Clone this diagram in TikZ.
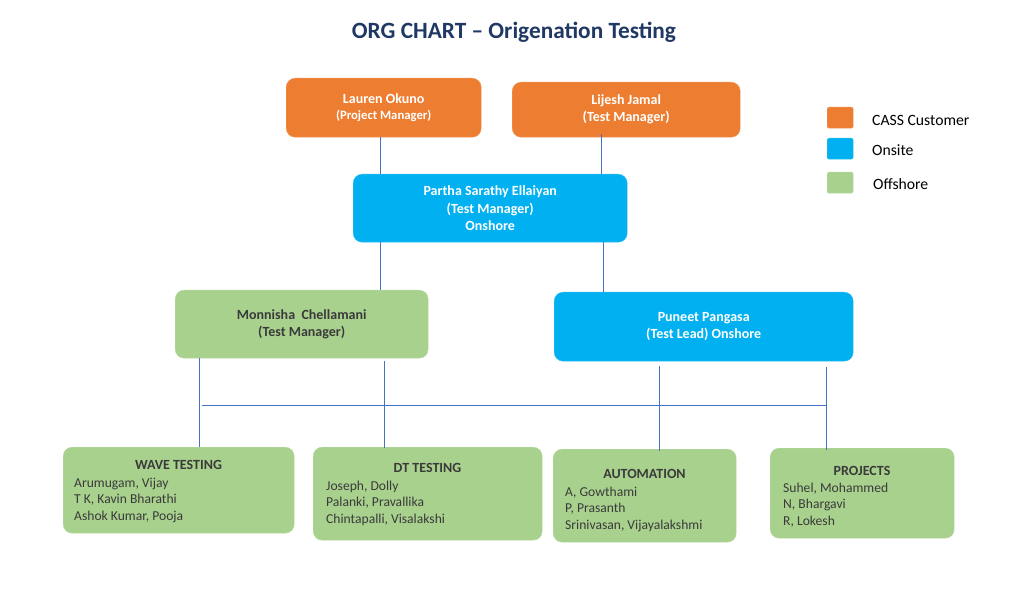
\documentclass[tikz,border=0pt]{standalone}
\usepackage{fontspec}
\setmainfont{Carlito}
\definecolor{cassorange}{HTML}{ED7D31}
\definecolor{onsiteblue}{HTML}{00B0F0}
\definecolor{offgreen}{HTML}{A9D18E}
\definecolor{titleblue}{HTML}{1F3864}
\definecolor{linkblue}{HTML}{4472C4}
\definecolor{darktext}{HTML}{3A3A3A}
\begin{document}
\begin{tikzpicture}[x=1pt,y=-1pt,
  box/.style={rounded corners=9pt, inner sep=0pt, anchor=north west, align=center},
  cassbox/.style={box, fill=cassorange, draw=cassorange!80!white, text=white, font=\bfseries\fontsize{14}{17}\selectfont},
  onbox/.style={box, fill=onsiteblue, draw=onsiteblue!80!white, text=white, font=\bfseries\fontsize{14}{17.5}\selectfont},
  offbox/.style={box, fill=offgreen, draw=offgreen!85!white, text=darktext, font=\bfseries\fontsize{14}{17}\selectfont},
  teamhead/.style={text=darktext, font=\bfseries\fontsize{14}{16}\selectfont, inner sep=0pt},
  teamnames/.style={text=darktext, font=\fontsize{13.6}{16.5}\selectfont, inner sep=0pt, anchor=north west, align=left},
  conn/.style={draw=linkblue, line width=1pt},
  legsq/.style={rounded corners=2pt, minimum width=26pt, minimum height=21pt, inner sep=0pt, anchor=north west},
  legtext/.style={font=\fontsize{15.7}{18}\selectfont, anchor=west, inner sep=0pt, text=black}
]
\useasboundingbox (0,0) rectangle (1025,601);
\fill[white] (0,0) rectangle (1025,601);

% title
\node[text=titleblue, font=\bfseries\fontsize{23.3}{26}\selectfont, inner sep=0pt] (title) at (514,32) {ORG CHART -- Origenation Testing};

% top level
\node[cassbox, minimum width=195pt, minimum height=59pt] (lauren) at (286,78) {Lauren Okuno\\[-1pt]{\fontsize{12.7}{14}\selectfont (Project Manager)}};
\node[cassbox, minimum width=228pt, minimum height=55pt] (lijesh) at (512,82) {Lijesh Jamal\\(Test Manager)};
\node[onbox, minimum width=274pt, minimum height=68pt] (partha) at (353,174) {Partha Sarathy Ellaiyan\\(Test Manager)\\Onshore};
\node[offbox, minimum width=253pt, minimum height=68pt] (monnisha) at (175,290) {Monnisha\ \ Chellamani\\(Test Manager)};
\node[onbox, minimum width=299pt, minimum height=69pt] (puneet) at (554,292) {Puneet Pangasa\\(Test Lead) Onshore};

% team boxes
\node[offbox, minimum width=231pt, minimum height=86pt] (wave) at (63,447) {};
\node[offbox, minimum width=229pt, minimum height=93pt] (dt) at (313,447) {};
\node[offbox, minimum width=183pt, minimum height=93pt] (auto) at (553,449) {};
\node[offbox, minimum width=184pt, minimum height=90pt] (proj) at (770,448) {};

\node[teamhead] (waveh) at (178.5,465) {WAVE TESTING};
\node[teamnames] (waven) at (74,477.5) {Arumugam, Vijay\\T K, Kavin Bharathi\\Ashok Kumar, Pooja};
\node[teamhead] (dth) at (427.5,468) {DT TESTING};
\node[teamnames] (dtn) at (326,480.5) {Joseph, Dolly\\Palanki, Pravallika\\Chintapalli, Visalakshi};
\node[teamhead] (autoh) at (644.5,474) {AUTOMATION};
\node[teamnames] (auton) at (565,486.5) {A, Gowthami\\P, Prasanth\\Srinivasan, Vijayalakshmi};
\node[teamhead] (projh) at (862,471) {PROJECTS};
\node[teamnames] (projn) at (783,482.5) {Suhel, Mohammed\\N, Bhargavi\\R, Lokesh};

% connector x positions
\coordinate (xa) at (380,0);
\coordinate (xb) at (601,0);
\coordinate (xc) at (603,0);
\coordinate (xd) at (199,0);
\coordinate (xe) at (384,0);
\coordinate (xf) at (659,0);
\coordinate (xg) at (826,0);
\coordinate (hl) at (202,405);
\coordinate (hr) at (826,405);

% connectors
\draw[conn] (lauren.south -| xa) -- (partha.north -| xa);
\draw[conn] ([yshift=3pt]lijesh.south -| xb) -- (partha.north -| xb);
\draw[conn] (partha.south -| xa) -- (monnisha.north -| xa);
\draw[conn] (partha.south -| xc) -- (puneet.north -| xc);
\draw[conn] (monnisha.south -| xd) -- (wave.north -| xd);
\draw[conn] ([yshift=-3pt]monnisha.south -| xe) -- ([yshift=-1pt]dt.north -| xe);
\draw[conn] ([yshift=-5pt]puneet.south -| xf) -- ([yshift=-2pt]auto.north -| xf);
\draw[conn] ([yshift=-6pt]puneet.south -| xg) -- ([yshift=-2pt]proj.north -| xg);
\draw[conn] (hl) -- (hr);

% legend
\node[legsq, fill=cassorange, draw=cassorange!80!white] (lg1) at (827,107) {};
\node[legsq, fill=onsiteblue, draw=onsiteblue!80!white] (lg2) at (827,138) {};
\node[legsq, fill=offgreen, draw=offgreen!85!white] (lg3) at (827,172) {};
\node[legtext] (lt1) at (872,120) {CASS Customer};
\node[legtext] (lt2) at (872,150) {Onsite};
\node[legtext] (lt3) at (873,184) {Offshore};
\end{tikzpicture}
\end{document}
